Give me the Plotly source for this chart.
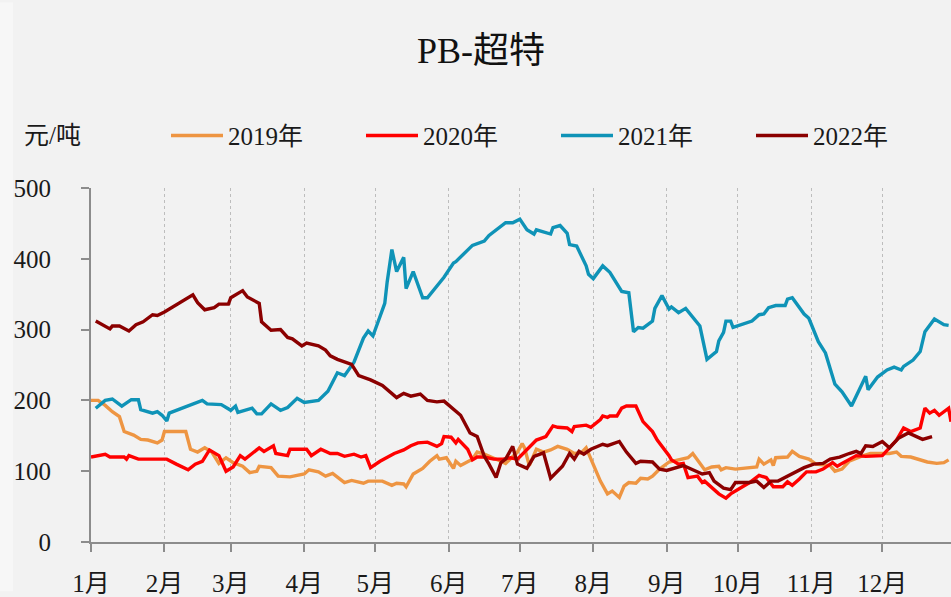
import plotly.graph_objects as go

# All seasons are overlaid on one shared calendar year.
BASE_YEAR = "2021"

month_ticks = ["01-01", "02-01", "03-01", "04-01", "05-01", "06-01",
               "07-01", "08-01", "09-01", "10-01", "11-01", "12-01"]
month_labels = ["1月", "2月", "3月", "4月", "5月", "6月",
                "7月", "8月", "9月", "10月", "11月", "12月"]
price_ticks = [0, 100, 200, 300, 400, 500]

dates_2019 = ["01-01", "01-04", "01-07", "01-10", "01-13", "01-15", "01-19", "01-22", "01-25", "01-29",
              "01-31", "02-01", "02-10", "02-12", "02-15", "02-18", "02-21", "02-24", "02-27", "03-02",
              "03-06", "03-09", "03-12", "03-13", "03-18", "03-21", "03-26", "04-01", "04-03", "04-07",
              "04-10", "04-13", "04-18", "04-21", "04-26", "04-28", "05-04", "05-08", "05-10", "05-13",
              "05-14", "05-17", "05-21", "05-24", "05-27", "05-28", "05-31", "06-03", "06-04", "06-06",
              "06-11", "06-13", "06-16", "06-20", "06-23", "06-25", "06-30", "07-02", "07-03", "07-05",
              "07-08", "07-11", "07-14", "07-17", "07-21", "07-24", "07-27", "07-29", "07-31", "08-04",
              "08-07", "08-09", "08-12", "08-14", "08-16", "08-19", "08-21", "08-24", "08-26", "08-29",
              "09-02", "09-07", "09-10", "09-12", "09-15", "09-17", "09-20", "09-23", "09-24", "09-26",
              "09-30", "10-06", "10-09", "10-10", "10-12", "10-15", "10-16", "10-17", "10-22", "10-24",
              "10-27", "10-31", "11-03", "11-09", "11-11", "11-14", "11-17", "11-22", "11-26", "12-01",
              "12-04", "12-07", "12-09", "12-13", "12-17", "12-20", "12-24", "12-27", "12-29"]
price_2019 = [200, 200, 193, 184, 177, 156, 151, 145, 144, 140,
              144, 156, 156, 131, 127, 133, 127, 111, 119, 112,
              107, 98, 100, 107, 105, 93, 92, 96, 102, 99,
              93, 97, 84, 87, 83, 86, 86, 80, 83, 82,
              78, 96, 104, 114, 122, 117, 119, 104, 114, 108,
              117, 127, 124, 119, 114, 111, 127, 139, 133, 108,
              131, 127, 130, 135, 131, 125, 126, 133, 117, 86,
              68, 72, 63, 79, 84, 83, 90, 89, 93, 103,
              113, 117, 119, 125, 112, 102, 106, 107, 102, 105,
              103, 105, 106, 117, 110, 116, 108, 119, 120, 128,
              121, 117, 110, 108, 100, 103, 114, 121, 125, 125,
              125, 127, 121, 120, 116, 113, 111, 112, 116]

dates_2020 = ["01-01", "01-07", "01-09", "01-15", "01-16", "01-17", "01-21",
              "02-02", "02-06", "02-11", "02-14", "02-17", "02-20", "02-24", "02-27",
              "03-02", "03-05", "03-07", "03-10", "03-13", "03-15", "03-19", "03-20", "03-25", "03-26",
              "04-02", "04-04", "04-08", "04-12", "04-15", "04-18", "04-22", "04-25", "04-27", "04-29",
              "05-03", "05-09", "05-13", "05-16", "05-19", "05-23", "05-27", "05-29", "05-30",
              "06-02", "06-04", "06-05", "06-09", "06-11", "06-13", "06-16", "06-20", "06-24", "06-27", "06-30",
              "07-04", "07-08", "07-12", "07-15", "07-17", "07-21", "07-23", "07-24", "07-29", "07-31",
              "08-04", "08-05", "08-07", "08-08", "08-11", "08-13", "08-15", "08-19", "08-22", "08-26", "08-28", "08-31",
              "09-02", "09-03", "09-06", "09-08", "09-10", "09-14", "09-16", "09-17", "09-20", "09-23", "09-26", "09-28",
              "10-03", "10-06", "10-10", "10-13", "10-16", "10-20", "10-22", "10-24", "10-27", "10-30",
              "11-03", "11-06", "11-10", "11-12", "11-14", "11-17", "11-20", "11-24",
              "12-01", "12-04", "12-07", "12-10", "12-13", "12-17", "12-19", "12-21", "12-23", "12-25", "12-29", "12-30"]
price_2020 = [120, 124, 120, 120, 117, 122, 117,
              117, 110, 102, 110, 114, 130, 122, 100,
              106, 122, 117, 125, 133, 128, 136, 125, 122, 131,
              131, 122, 131, 125, 125, 121, 124, 120, 122, 105,
              114, 125, 130, 136, 140, 141, 135, 139, 149,
              148, 140, 145, 131, 116, 120, 120, 117, 117, 119, 117,
              131, 144, 149, 164, 162, 161, 156, 163, 165, 162,
              173, 178, 176, 178, 178, 189, 192, 192, 170, 156, 144, 131,
              122, 116, 110, 111, 91, 93, 84, 86, 77, 68, 62, 68,
              78, 84, 94, 91, 78, 78, 85, 80, 89, 99,
              99, 103, 112, 107, 111, 117, 122, 121,
              122, 133, 144, 161, 156, 161, 189, 182, 186, 179, 189, 170]

dates_2021 = ["01-03", "01-07", "01-10", "01-14", "01-18", "01-21", "01-22", "01-27", "01-29", "01-31",
              "02-02", "02-03", "02-17", "02-19", "02-25",
              "03-01", "03-03", "03-04", "03-10", "03-12", "03-14", "03-18", "03-22", "03-25", "03-29",
              "04-01", "04-07", "04-11", "04-15", "04-18", "04-22", "04-26", "04-28", "04-30",
              "05-05", "05-06", "05-08", "05-10", "05-13", "05-14", "05-17", "05-19", "05-21", "05-23", "05-27", "05-30",
              "06-03", "06-04", "06-11", "06-16", "06-18", "06-25", "06-28",
              "07-01", "07-04", "07-07", "07-08", "07-14", "07-15", "07-18", "07-21", "07-22", "07-25", "07-29", "07-30",
              "08-01", "08-05", "08-08", "08-13", "08-16", "08-18", "08-20", "08-22", "08-26", "08-27", "08-30",
              "09-02", "09-03", "09-06", "09-09", "09-15", "09-18", "09-22", "09-23", "09-25", "09-26", "09-28", "09-29",
              "10-07", "10-10", "10-12", "10-14", "10-17", "10-21", "10-22", "10-24", "10-29", "10-31",
              "11-04", "11-05", "11-07", "11-11", "11-14", "11-18", "11-22", "11-24", "11-25", "11-29",
              "12-03", "12-06", "12-09", "12-10", "12-14", "12-17", "12-19", "12-23", "12-27", "12-29"]
price_2021 = [189, 200, 202, 192, 201, 201, 187, 182, 184, 179,
              171, 182, 200, 195, 194,
              186, 192, 183, 189, 181, 181, 195, 186, 190, 203,
              197, 200, 213, 239, 235, 254, 288, 298, 291,
              337, 367, 413, 382, 402, 358, 382, 365, 345, 345, 362, 374,
              394, 396, 419, 425, 433, 451, 451,
              456, 441, 435, 441, 435, 444, 447, 436, 420, 418, 390, 378,
              372, 390, 381, 354, 352, 297, 303, 302, 312, 330, 348,
              329, 332, 324, 330, 305, 258, 269, 284, 296, 312, 312, 303,
              312, 321, 322, 331, 334, 334, 343, 345, 322, 316,
              283, 277, 267, 223, 212, 192, 219, 234, 215, 233,
              243, 247, 243, 248, 257, 269, 297, 315, 307, 306]

dates_2022 = ["01-03", "01-09", "01-10", "01-13", "01-17", "01-20", "01-23", "01-27", "01-29",
              "02-01", "02-13", "02-15", "02-18", "02-22", "02-24", "02-28",
              "03-01", "03-06", "03-08", "03-13", "03-14", "03-18", "03-22", "03-25", "03-27", "03-30", "03-31",
              "04-02", "04-07", "04-10", "04-12", "04-15", "04-18", "04-21", "04-24", "04-29",
              "05-04", "05-10", "05-13", "05-16", "05-20", "05-23", "05-27", "05-30",
              "06-06", "06-10", "06-13", "06-16", "06-18", "06-21", "06-23", "06-25", "06-28", "06-30",
              "07-04", "07-07", "07-11", "07-14", "07-19", "07-22", "07-24", "07-26", "07-28", "07-31",
              "08-05", "08-07", "08-12", "08-15", "08-19", "08-21", "08-26", "08-29",
              "09-01", "09-08", "09-16", "09-19", "09-21", "09-25", "09-28", "09-30",
              "10-06", "10-09", "10-12", "10-15", "10-18", "10-22", "10-24", "10-29",
              "11-02", "11-06", "11-09", "11-13", "11-17", "11-20", "11-22", "11-24", "11-27",
              "12-01", "12-04", "12-08", "12-12", "12-15", "12-18", "12-22"]
price_2022 = [312, 301, 305, 305, 298, 307, 311, 321, 320,
              325, 349, 338, 328, 331, 336, 336,
              345, 355, 346, 337, 311, 299, 300, 289, 287, 280, 277,
              281, 277, 271, 263, 258, 254, 251, 235, 229,
              221, 204, 210, 206, 209, 200, 198, 199,
              179, 154, 149, 121, 110, 91, 112, 117, 135, 110,
              104, 121, 126, 90, 107, 125, 117, 128, 124, 131,
              138, 136, 142, 127, 111, 114, 113, 103,
              101, 108, 96, 98, 86, 76, 74, 84,
              84, 86, 77, 86, 86, 93, 96, 105,
              110, 111, 117, 120, 125, 128, 125, 136, 135,
              142, 133, 147, 154, 149, 145, 149]

series = [
    ("2019年", dates_2019, price_2019, "#ee9542"),
    ("2020年", dates_2020, price_2020, "#ff0000"),
    ("2021年", dates_2021, price_2021, "#0f93b7"),
    ("2022年", dates_2022, price_2022, "#8b0000"),
]

FONT = "Liberation Serif, Noto Sans CJK SC, serif"
AXIS_GREY = "#8c8c8c"
TEXT = "#1a1a1a"

# legend geometry (px): symbol slot, text slot per entry
LEGEND_SYMBOL = 52
LEGEND_ENTRY = 128


def on_base_year(md):
    return f"{BASE_YEAR}-{md}"


fig = go.Figure()
for i, (name, dates, prices, color) in enumerate(series):
    assert len(dates) == len(prices), name
    fig.add_trace(go.Scatter(
        x=[on_base_year(d) for d in dates],
        y=prices,
        mode="lines",
        name=name,
        line=dict(color=color, width=3.4),
        hoverinfo="skip",
        legendwidth=90 if i == len(series) - 1 else LEGEND_ENTRY,
    ))

# plot area: 860 x 359 px
fig.update_layout(
    width=951,
    height=597,
    margin=dict(l=91, r=0, t=188, b=50),
    paper_bgcolor="#f2f2f2",
    plot_bgcolor="#f2f2f2",
    font=dict(family=FONT, size=25, color=TEXT),
    title=dict(
        text="PB-超特",
        x=481 / 951, xanchor="center",
        y=1 - 50 / 597, yanchor="middle",
        font=dict(family=FONT, size=36, color="#111111"),
    ),
    showlegend=True,
    legend=dict(
        orientation="h",
        x=(166 - 91) / 860, xanchor="left",
        y=(547 - 135) / 359, yanchor="middle",
        entrywidth=LEGEND_ENTRY, entrywidthmode="pixels",
        itemwidth=LEGEND_SYMBOL,
        bgcolor="rgba(0,0,0,0)",
        font=dict(family=FONT, size=25, color=TEXT),
    ),
    annotations=[dict(
        text="元/吨",
        xref="paper", yref="paper",
        x=(22 - 91) / 860, xanchor="left",
        y=(547 - 135) / 359, yanchor="middle",
        showarrow=False,
        font=dict(family=FONT, size=25, color=TEXT),
    )],
    shapes=[dict(
        type="rect", xref="paper", yref="paper", layer="below",
        x0=-91 / 860, x1=(13 - 91) / 860,
        y0=-50 / 359, y1=547 / 359,
        fillcolor="#f7f7f7", line=dict(width=0),
    )],
)

fig.update_xaxes(
    type="date",
    range=[on_base_year("01-01"), on_base_year("12-30")],
    tickvals=[on_base_year(m) for m in month_ticks],
    ticktext=month_labels,
    ticks="outside", ticklen=8, tickwidth=2, tickcolor=AXIS_GREY,
    showline=True, linecolor=AXIS_GREY, linewidth=2,
    showgrid=True, gridcolor="#bdbdbd", griddash="dot", gridwidth=1,
    zeroline=False,
    ticklabelstandoff=10,
    tickfont=dict(family=FONT, size=25, color=TEXT),
    fixedrange=True,
)
fig.update_yaxes(
    range=[0, 500],
    tickvals=price_ticks,
    ticktext=[f"{v}\u2003" for v in price_ticks],
    ticks="outside", ticklen=8, tickwidth=2, tickcolor=AXIS_GREY,
    showline=True, linecolor=AXIS_GREY, linewidth=2,
    showgrid=False, zeroline=False,
    tickfont=dict(family=FONT, size=25, color=TEXT),
    fixedrange=True,
)

fig.write_html("out.html")
